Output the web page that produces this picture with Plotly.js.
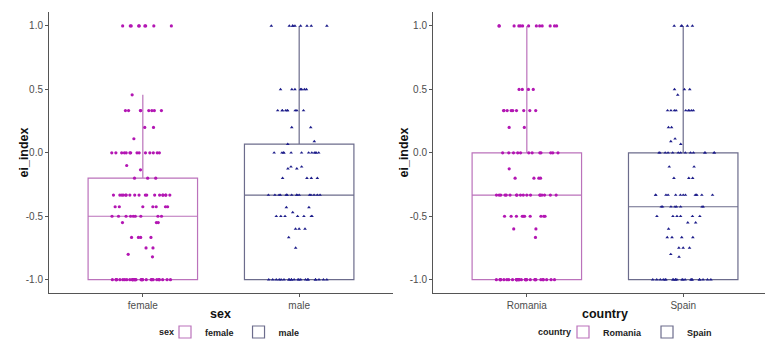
<!DOCTYPE html>
<html>
<head>
<meta charset="utf-8">
<script src="https://cdn.plot.ly/plotly-3.0.1.min.js"></script>
<style>
html,body{margin:0;padding:0;background:#fff;}
#chart{width:765px;height:339px;}
</style>
</head>
<body>
<div id="chart"></div>
<script>
// ---------- data ----------
const sexCats = ['female', 'male'];
const countryCats = ['Romania', 'Spain'];

// box statistics [q1, median, q3, lower whisker, upper whisker]
const femaleStats = [-1, -0.5, -0.2, -1, 0.457];
const maleStats = [-1, -0.333, 0.068, -1, 1];
const romaniaStats = [-1, -0.333, 0, -1, 1];
const spainStats = [-1, -0.425, 0, -1, 1];

// individual ei_index values (jittered points)
const femaleY = [1,1,1,1,1,1,1,1,1, 0.457,
  0.333,0.333,0.333,0.333,0.333,0.333,0.333,0.333, 0.2,0.2, 0.111,
  0,0,0,0,0,0,0,0,0,0,0,0,0,0, -0.1,-0.134, -0.2,-0.2,-0.2,
  -0.333,-0.333,-0.333,-0.333,-0.333,-0.333,-0.333,-0.333,-0.333,-0.333,-0.333,-0.333,-0.333,-0.333,-0.333,-0.333,-0.333,-0.333,
  -0.425,-0.425,-0.425,-0.425,-0.425,-0.425,-0.425,
  -0.5,-0.5,-0.5,-0.5,-0.5,-0.5,-0.5,-0.5,-0.5, -0.55,-0.55,-0.55,
  -0.667,-0.667,-0.667,-0.667, -0.75,-0.75, -0.8,-0.82,
  -1,-1,-1,-1,-1,-1,-1,-1,-1,-1,-1,-1,-1,-1,-1,-1,-1,-1,-1,-1,-1,-1,-1,-1,-1,-1,-1,-1,-1,-1];
const maleY = [1,1,1,1,1,1,1,1,1, 0.5,0.5,0.5,0.5,0.5,0.5,0.5,
  0.333,0.333,0.333,0.333,0.333,0.333,0.333,0.333,0.333, 0.2,0.2, 0.09, 0.068,
  0,0,0,0,0,0,0,0,0,0,0,0, -0.11,-0.11, -0.125,-0.125, -0.2,-0.2,-0.2,-0.2,
  -0.333,-0.333,-0.333,-0.333,-0.333,-0.333,-0.333,-0.333,-0.333,-0.333,-0.333,-0.333,-0.333,-0.333,-0.333,-0.333,
  -0.43,-0.43, -0.47, -0.5,-0.5,-0.5,-0.5,-0.5,-0.5,-0.5, -0.6,-0.6,-0.6, -0.667, -0.75,
  -1,-1,-1,-1,-1,-1,-1,-1,-1,-1,-1,-1,-1,-1,-1,-1,-1,-1,-1,-1,-1,-1];
const romaniaY = [1,1,1,1,1,1,1,1,1,1,1,1,1, 0.5,0.5,0.5,0.5,
  0.333,0.333,0.333,0.333,0.333,0.333,0.333,0.333,0.333, 0.2,0.2,
  0,0,0,0,0,0,0,0,0,0,0,0, -0.126, -0.2,-0.2,-0.2,-0.2,
  -0.333,-0.333,-0.333,-0.333,-0.333,-0.333,-0.333,-0.333,-0.333,-0.333,-0.333,-0.333,-0.333,-0.333,-0.333,-0.333,-0.333,-0.333,
  -0.5,-0.5,-0.5,-0.5,-0.5,-0.5,-0.5,-0.5,-0.5,-0.5, -0.6,-0.6, -0.667,
  -1,-1,-1,-1,-1,-1,-1,-1,-1,-1,-1,-1,-1,-1,-1,-1,-1,-1,-1,-1,-1,-1,-1,-1,-1,-1,-1,-1,-1,-1];
const spainY = [1,1,1,1,1, 0.5,0.5,0.5, 0.457,
  0.333,0.333,0.333,0.333,0.333,0.333,0.333,0.333,0.333, 0.2,0.2, 0.111, 0.09, 0.068,
  0,0,0,0,0,0,0,0,0,0,0,0,0,0, -0.11,-0.11, -0.2,-0.2,-0.2,
  -0.333,-0.333,-0.333,-0.333,-0.333,-0.333,-0.333,-0.333,-0.333,-0.333,-0.333,-0.333,-0.333,
  -0.425,-0.425,-0.425,-0.425,-0.425,-0.425,-0.425,-0.425,
  -0.5,-0.5,-0.5,-0.5,-0.5,-0.5, -0.55,-0.55, -0.6, -0.667,-0.667,-0.667,-0.667,
  -0.75,-0.75,-0.75, -0.8,-0.82,
  -1,-1,-1,-1,-1,-1,-1,-1,-1,-1,-1,-1,-1,-1,-1,-1,-1,-1,-1,-1,-1,-1];

const yTickVals = [-1, -0.5, 0, 0.5, 1];
const yTickText = ['-1.0', '-0.5', '0.0', '0.5', '1.0'];

// ---------- styling ----------
const magentaPt = '#b316b3', magentaBox = '#bb72bb';
const navyPt = '#1c1c8a', navyBox = '#6c6c8c';
const FONT = 'Liberation Sans, Arial, sans-serif';

function statBox(cat, s, color, xa, ya, legend) {
  return {
    type: 'box', name: cat, x: [cat],
    q1: [s[0]], median: [s[1]], q3: [s[2]], lowerfence: [s[3]], upperfence: [s[4]],
    boxpoints: false, width: 0.7, whiskerwidth: 0,
    line: {color: color, width: 1.2}, fillcolor: 'rgba(255,255,255,0)',
    xaxis: xa, yaxis: ya, legend: legend, hoverinfo: 'skip'
  };
}
function pointsBox(cat, ys, color, symbol, xa, ya) {
  return {
    type: 'box', name: cat, x0: cat, y: ys,
    boxpoints: 'all', jitter: 1, pointpos: 0, width: 0.4,
    marker: {color: color, size: 3.2, symbol: symbol},
    line: {width: 0, color: 'rgba(0,0,0,0)'}, fillcolor: 'rgba(0,0,0,0)',
    showlegend: false, xaxis: xa, yaxis: ya, hoverinfo: 'skip'
  };
}

const traces = [
  statBox(sexCats[0], femaleStats, magentaBox, 'x', 'y', 'legend'),
  statBox(sexCats[1], maleStats, navyBox, 'x', 'y', 'legend'),
  statBox(countryCats[0], romaniaStats, magentaBox, 'x2', 'y2', 'legend2'),
  statBox(countryCats[1], spainStats, navyBox, 'x2', 'y2', 'legend2'),
  pointsBox(sexCats[0], femaleY, magentaPt, 'circle', 'x', 'y'),
  pointsBox(sexCats[1], maleY, navyPt, 'triangle-up', 'x', 'y'),
  pointsBox(countryCats[0], romaniaY, magentaPt, 'circle', 'x2', 'y2'),
  pointsBox(countryCats[1], spainY, navyPt, 'triangle-up', 'x2', 'y2')
];

const axisCommon = {
  showgrid: false, zeroline: false, showline: true, linecolor: '#555', linewidth: 1,
  ticks: 'outside', ticklen: 3, tickcolor: '#555', tickwidth: 1,
  tickfont: {family: FONT, size: 10, color: '#4d4d4d'}, fixedrange: true, automargin: false
};
const yDomain = [1 - 293/339, 1 - 12/339];
const legY = 1 - 332/339;

const legendCommon = {
  orientation: 'h', xref: 'container', yref: 'container', xanchor: 'left',
  y: legY, yanchor: 'middle', valign: 'middle',
  font: {family: FONT, size: 9, color: '#222', weight: 'bold'},
  itemwidth: 30, bgcolor: 'rgba(0,0,0,0)', tracegroupgap: 0
};

const layout = {
  width: 765, height: 339,
  margin: {l: 0, r: 0, t: 0, b: 0, autoexpand: false},
  paper_bgcolor: '#fff', plot_bgcolor: '#fff',
  boxmode: 'overlay',
  font: {family: FONT},
  xaxis: Object.assign({}, axisCommon, {domain: [49/765, 393/765], anchor: 'y',
    type: 'category', categoryorder: 'array', categoryarray: sexCats, range: [-0.6, 1.6]}),
  yaxis: Object.assign({}, axisCommon, {domain: yDomain, anchor: 'x',
    range: [-1.105, 1.11], tickmode: 'array', tickvals: yTickVals, ticktext: yTickText}),
  xaxis2: Object.assign({}, axisCommon, {domain: [433/765, 1], anchor: 'y2',
    type: 'category', categoryorder: 'array', categoryarray: countryCats, range: [-0.6, 1.523]}),
  yaxis2: Object.assign({}, axisCommon, {domain: yDomain, anchor: 'x2',
    range: [-1.105, 1.11], tickmode: 'array', tickvals: yTickVals, ticktext: yTickText}),
  legend: Object.assign({}, legendCommon, {x: 165/765}),
  legend2: Object.assign({}, legendCommon, {x: 563/765}),
  annotations: [
    {text: '<b>ei_index</b>', textangle: -90, xref: 'paper', yref: 'paper',
     x: 23/765, y: 1 - 152.5/339, xanchor: 'center', yanchor: 'middle',
     showarrow: false, font: {size: 12.5, color: '#111'}},
    {text: '<b>ei_index</b>', textangle: -90, xref: 'paper', yref: 'paper',
     x: 403/765, y: 1 - 152.5/339, xanchor: 'center', yanchor: 'middle',
     showarrow: false, font: {size: 12.5, color: '#111'}},
    {text: '<b>sex</b>', xref: 'paper', yref: 'paper',
     x: 221/765, y: 1 - 314/339, xanchor: 'center', yanchor: 'middle',
     showarrow: false, font: {size: 12.5, color: '#111'}},
    {text: '<b>country</b>', xref: 'paper', yref: 'paper',
     x: 605/765, y: 1 - 314/339, xanchor: 'center', yanchor: 'middle',
     showarrow: false, font: {size: 12.5, color: '#111'}},
    {text: '<b>sex</b>', xref: 'paper', yref: 'paper',
     x: 176/765, y: legY, xanchor: 'right', yanchor: 'middle',
     showarrow: false, font: {size: 9, color: '#222'}},
    {text: '<b>country</b>', xref: 'paper', yref: 'paper',
     x: 573/765, y: legY, xanchor: 'right', yanchor: 'middle',
     showarrow: false, font: {size: 9, color: '#222'}}
  ]
};

Plotly.newPlot('chart', traces, layout, {staticPlot: true, displayModeBar: false});
</script>
</body>
</html>
